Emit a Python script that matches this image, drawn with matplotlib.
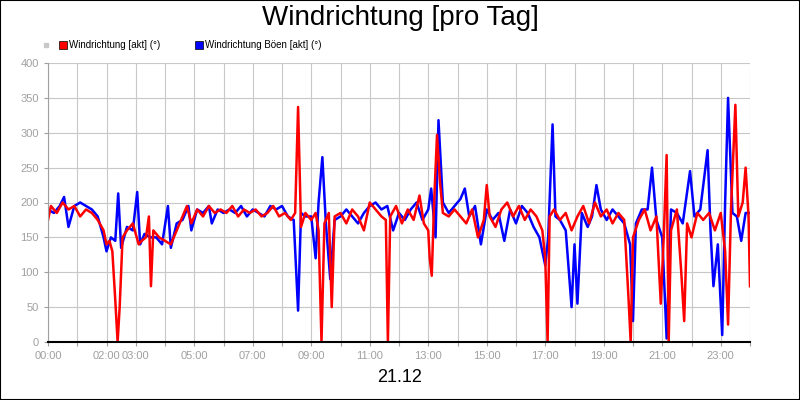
import matplotlib
matplotlib.use("Agg")
import matplotlib.pyplot as plt
from matplotlib.patches import Rectangle

plt.rcParams['font.family'] = ['Liberation Sans', 'DejaVu Sans']

red_t = [0.0,0.1,0.3,0.5,0.7,0.9,1.1,1.3,1.5,1.7,1.9,2.0,2.1,2.2,2.3,2.38,2.45,2.55,2.7,2.9,3.1,3.2,3.35,3.45,3.52,3.6,3.8,4.0,4.2,4.4,4.6,4.75,4.9,5.1,5.3,5.5,5.7,5.9,6.1,6.3,6.5,6.7,6.9,7.1,7.3,7.5,7.7,7.9,8.1,8.3,8.45,8.55,8.65,8.8,9.0,9.15,9.25,9.35,9.45,9.6,9.7,9.8,10.0,10.2,10.4,10.6,10.8,11.0,11.2,11.4,11.55,11.62,11.7,11.9,12.1,12.3,12.5,12.7,12.85,13.0,13.05,13.12,13.2,13.3,13.4,13.5,13.7,13.9,14.1,14.3,14.5,14.7,14.9,15.0,15.1,15.3,15.5,15.7,15.9,16.1,16.3,16.5,16.7,16.9,17.0,17.08,17.15,17.3,17.5,17.7,17.9,18.1,18.3,18.5,18.7,18.9,19.1,19.3,19.5,19.7,19.85,19.92,20.0,20.2,20.4,20.6,20.8,20.95,21.05,21.15,21.22,21.3,21.5,21.65,21.75,21.85,22.0,22.2,22.4,22.6,22.8,23.0,23.15,23.25,23.35,23.5,23.6,23.75,23.85,23.95,24.0]
red_v = [175,195,185,200,190,195,180,190,185,175,160,140,145,130,60,0,50,150,160,170,140,145,150,180,80,160,150,145,140,160,180,195,170,190,180,195,185,190,185,195,180,190,185,190,180,185,195,180,185,175,185,337,165,185,175,185,160,0,170,185,50,180,185,170,190,180,160,200,190,180,175,0,180,195,170,190,175,210,170,160,120,95,200,297,230,185,180,190,180,170,190,150,175,225,180,165,190,200,180,195,175,190,180,160,120,0,180,190,175,185,160,180,195,170,200,180,190,170,185,175,60,0,150,175,190,160,180,55,150,268,0,160,190,100,30,170,150,185,175,185,160,185,130,25,190,340,180,200,250,180,80]

blue_t = [0.0,0.2,0.4,0.55,0.7,0.9,1.1,1.3,1.5,1.7,1.9,2.0,2.15,2.3,2.4,2.5,2.7,2.9,3.05,3.15,3.3,3.5,3.7,3.9,4.1,4.2,4.4,4.6,4.8,4.9,5.1,5.3,5.5,5.6,5.8,6.0,6.2,6.4,6.6,6.8,7.0,7.2,7.4,7.6,7.8,8.0,8.2,8.4,8.55,8.65,8.8,9.0,9.15,9.25,9.38,9.5,9.65,9.8,10.0,10.2,10.4,10.6,10.8,11.0,11.2,11.4,11.6,11.8,12.0,12.2,12.4,12.6,12.8,13.0,13.1,13.25,13.35,13.5,13.7,13.9,14.1,14.25,14.4,14.6,14.8,15.0,15.2,15.4,15.6,15.8,16.0,16.2,16.4,16.6,16.8,17.0,17.1,17.25,17.35,17.5,17.7,17.9,18.0,18.1,18.25,18.45,18.6,18.75,18.9,19.1,19.3,19.5,19.7,19.9,20.0,20.1,20.3,20.5,20.65,20.8,21.0,21.15,21.3,21.5,21.7,21.95,22.1,22.3,22.55,22.65,22.75,22.9,23.05,23.15,23.25,23.4,23.55,23.7,23.85,24.0]
blue_v = [190,185,195,208,165,195,200,195,190,180,150,130,150,145,213,135,165,160,215,140,155,150,150,140,195,135,170,175,195,160,190,185,195,170,190,185,190,185,195,180,190,185,180,195,190,195,180,175,45,185,180,180,120,200,265,170,90,175,180,190,180,170,185,195,200,190,195,160,185,175,190,200,175,190,220,150,318,200,185,195,205,220,180,195,140,190,175,185,145,190,170,195,185,165,150,110,150,312,180,175,160,50,140,55,185,165,180,225,190,175,190,180,170,140,30,170,190,190,250,175,150,5,190,185,170,245,180,190,275,160,80,140,10,200,350,185,180,145,185,185]

tick_pos = [0,2,3,5,7,9,11,13,15,17,19,21,23]
tick_lbl = ["00:00","02:00","03:00","05:00","07:00","09:00","11:00","13:00","15:00","17:00","19:00","21:00","23:00"]

fig = plt.figure(figsize=(8,4), dpi=100)
fig.patches.append(Rectangle((0,0),1,1,transform=fig.transFigure,fill=False,edgecolor='black',linewidth=1.5))
ax = fig.add_axes([48/800, 1-342/400, (750-48)/800, (342-63)/400])
ax.plot(blue_t, blue_v, color='#0000ff', lw=1.8)
ax.plot(red_t, red_v, color='#ff0000', lw=1.8)
ax.set_xlim(0,24)
ax.set_ylim(0,400)
ax.set_xticks(range(0,25))
ax.set_xticklabels([tick_lbl[tick_pos.index(h)] if h in tick_pos else "" for h in range(25)])
ax.set_yticks(range(0,401,50))
ax.grid(True, color='#c8c8c8', lw=0.8)
ax.tick_params(colors='#a0a0a0', labelsize=8, length=3)
for s in ['top','right']:
    ax.spines[s].set_visible(False)
ax.spines['left'].set_color('#a0a0a0')
ax.spines['bottom'].set_color('black')
ax.spines['bottom'].set_linewidth(1.5)

fig.text(0.5, 1-18/400, "Windrichtung [pro Tag]", ha='center', va='center', fontsize=20)
fig.text(0.5, 1-378/400, "21.12", ha='center', va='center', fontsize=13)
fig.patches.append(Rectangle((44/800,1-47/400),4/800,4/400,transform=fig.transFigure,color='#c8c8c8'))
fig.patches.append(Rectangle((59/800,1-49/400),8/800,8/400,transform=fig.transFigure,facecolor='red',edgecolor='black',lw=0.5))
fig.text(69/800, 1-45/400, "Windrichtung [akt] (°)", fontsize=7, va='center')
fig.patches.append(Rectangle((195/800,1-49/400),8/800,8/400,transform=fig.transFigure,facecolor='blue',edgecolor='black',lw=0.5))
fig.text(205/800, 1-45/400, "Windrichtung Böen [akt] (°)", fontsize=7, va='center')
fig.savefig("out.png")
